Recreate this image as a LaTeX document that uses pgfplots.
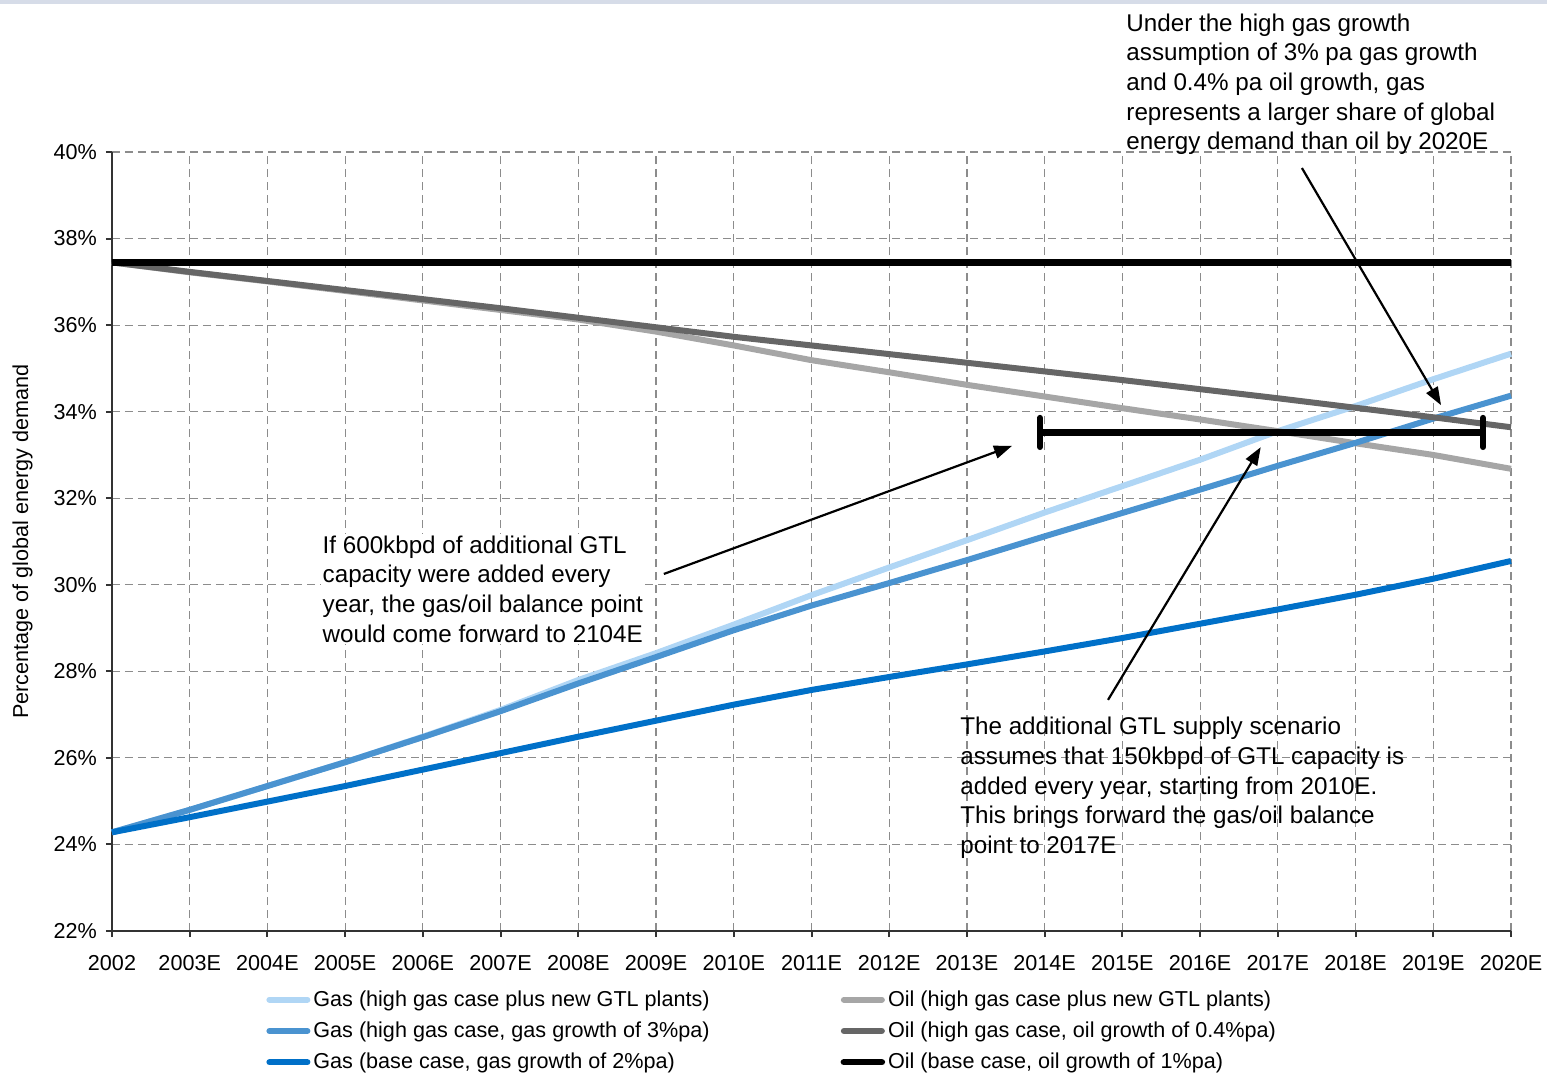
\documentclass[border=0pt]{standalone}
\usepackage{fontspec}
\setmainfont{Liberation Sans}
\usepackage{pgfplots}
\usepackage{pgfplotstable}
\pgfplotsset{compat=1.18}
\usetikzlibrary{arrows.meta}

\definecolor{gasgtl}{RGB}{176,214,245}
\definecolor{gashigh}{RGB}{74,147,208}
\definecolor{gasbase}{RGB}{0,112,200}
\definecolor{oilgtl}{RGB}{166,166,166}
\definecolor{oilhigh}{RGB}{102,102,102}
\definecolor{bandc}{RGB}{214,220,232}
\definecolor{gridc}{RGB}{140,140,140}

% share of global energy demand (%), year index 0 = 2002
\pgfplotstableread{
yr gasgtl oilgtl gashigh oilhigh gasbase oilbase
0  24.28 37.45 24.28 37.45 24.28 37.45
1  24.80 37.22 24.80 37.23 24.63 37.45
2  25.35 37.01 25.35 37.02 24.99 37.45
3  25.90 36.79 25.90 36.81 25.35 37.45
4  26.49 36.57 26.48 36.60 25.73 37.45
5  27.11 36.35 27.08 36.39 26.11 37.45
6  27.80 36.13 27.72 36.17 26.49 37.45
7  28.42 35.85 28.33 35.95 26.86 37.45
8  29.08 35.53 28.95 35.73 27.23 37.45
9  29.76 35.19 29.52 35.53 27.57 37.45
10 30.40 34.91 30.04 35.33 27.87 37.45
11 31.03 34.62 30.57 35.13 28.16 37.45
12 31.67 34.35 31.12 34.93 28.46 37.45
13 32.28 34.08 31.66 34.73 28.77 37.45
14 32.89 33.82 32.20 34.52 29.10 37.45
15 33.55 33.55 32.75 34.31 29.43 37.45
16 34.13 33.27 33.28 34.09 29.77 37.45
17 34.75 33.00 33.84 33.87 30.14 37.45
18 35.34 32.68 34.37 33.64 30.55 37.45
}\shares

\newcommand{\smallfont}{\fontsize{10.8}{12.9}\selectfont}
\newcommand{\notefont}{\fontsize{12.1}{14.8}\selectfont}

\begin{document}
\begin{tikzpicture}
\begin{axis}[
  scale only axis, width=699.5pt, height=389.5pt,
  xmin=0, xmax=18, ymin=22, ymax=40,
  xtick={0,...,18},
  xticklabels={2002,2003E,2004E,2005E,2006E,2007E,2008E,2009E,2010E,2011E,2012E,2013E,2014E,2015E,2016E,2017E,2018E,2019E,2020E},
  ytick={22,24,...,40},
  yticklabels={22\%,24\%,26\%,28\%,30\%,32\%,34\%,36\%,38\%,40\%},
  axis lines*=left,
  axis line style={-, line width=1pt, black!80},
  tick align=outside, major tick length=3pt,
  tick style={line width=1pt, black!80},
  grid=major,
  major grid style={gridc, line width=0.6pt, dash pattern=on 4pt off 2.5pt},
  ticklabel style={font=\smallfont},
  xticklabel style={yshift=-5.5pt},
  yticklabel style={xshift=-1pt},
  ylabel={Percentage of global energy demand},
  ylabel style={font=\smallfont, at={(axis description cs:-0.064,0.5)}, anchor=center},
  clip=false,
  legend columns=2,
  legend cell align=left,
  legend style={draw=none, fill=none, font=\smallfont,
    at={(rel axis cs:0,0)}, anchor=north west, xshift=77pt, yshift=-27.5pt,
    inner sep=0pt, row sep=2.3pt,
    nodes={inner xsep=1.5pt},
    /tikz/every even column/.append style={column sep=64pt}},
  legend image code/.code={\draw[#1, line cap=round] (1.5pt,0pt) -- (20.5pt,0pt);},
]
\addplot[gasgtl, line width=3pt] table[x=yr, y=gasgtl] {\shares};
\addlegendentry{Gas (high gas case plus new GTL plants)}
\addplot[oilgtl, line width=3pt] table[x=yr, y=oilgtl] {\shares};
\addlegendentry{Oil (high gas case plus new GTL plants)}
\addplot[gashigh, line width=3pt] table[x=yr, y=gashigh] {\shares};
\addlegendentry{Gas (high gas case, gas growth of 3\%pa)}
\addplot[oilhigh, line width=3pt] table[x=yr, y=oilhigh] {\shares};
\addlegendentry{Oil (high gas case, oil growth of 0.4\%pa)}
\addplot[gasbase, line width=3pt] table[x=yr, y=gasbase] {\shares};
\addlegendentry{Gas (base case, gas growth of 2\%pa)}
\addplot[black, line width=3.25pt] table[x=yr, y=oilbase] {\shares};
\addlegendentry{Oil (base case, oil growth of 1\%pa)}

% balance-point range bar
\addplot[black, line width=3.3pt, mark=|, mark size=7.3pt,
  mark options={line width=3pt, line cap=round}, forget plot]
  coordinates {(11.94,33.52) (17.64,33.52)};

% call-out arrows
\draw[black, line width=1.1pt, -{Triangle[length=9pt, width=6.5pt]}]
  (axis cs:7.10,30.25) -- (axis cs:11.58,33.21);
\draw[black, line width=1.1pt, -{Triangle[length=9pt, width=6.5pt]}]
  (axis cs:12.815,27.34) -- (axis cs:14.78,33.18);
\draw[black, line width=1.1pt, -{Triangle[length=9pt, width=6.5pt]}]
  (axis cs:15.31,39.63) -- (axis cs:17.10,34.15);

% call-out texts
\node[anchor=north west, align=left, fill=white, inner sep=1pt, font=\notefont]
  at (axis cs:2.68,31.19) {If 600kbpd of additional GTL\\capacity were added every\\year, the gas/oil balance point\\would come forward to 2104E};
\node[anchor=north west, align=left, inner sep=0pt, font=\notefont]
  at (axis cs:10.91,26.945) {The additional GTL supply scenario\\assumes that 150kbpd of GTL capacity is\\added every year, starting from 2010E.\\This brings forward the gas/oil balance\\point to 2017E};
\node[anchor=north west, align=left, inner sep=0pt, font=\notefont]
  at (axis cs:13.047,43.204) {Under the high gas growth\\assumption of 3\% pa gas growth\\and 0.4\% pa oil growth, gas\\represents a larger share of global\\energy demand than oil by 2020E};
\end{axis}
\fill[bandc] (-56pt,463.5pt) rectangle (717.5pt,465.5pt);
\pgfresetboundingbox
\useasboundingbox (-56pt,-71pt) rectangle (717.5pt,465.5pt);
\end{tikzpicture}
\end{document}
